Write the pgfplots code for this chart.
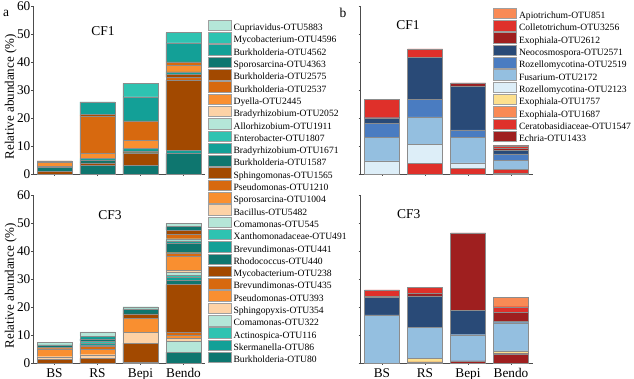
\documentclass[border=0pt]{standalone}
\usepackage{fontspec}
\setmainfont{Liberation Serif}
\usepackage{pgfplots}
\usepackage{pgfplotstable}
\pgfplotsset{compat=1.18}

\definecolor{dkteal}{HTML}{0E766F}
\definecolor{teal2}{HTML}{13A097}
\definecolor{turq}{HTML}{2EC3B1}
\definecolor{mint}{HTML}{B5E6D8}
\definecolor{peach}{HTML}{FDD2A6}
\definecolor{orng}{HTML}{F98F30}
\definecolor{orbrown}{HTML}{D7690F}
\definecolor{brwn}{HTML}{A24900}
\definecolor{coral}{HTML}{F98A55}
\definecolor{red2}{HTML}{DF302A}
\definecolor{dkred}{HTML}{9F1F1F}
\definecolor{navy}{HTML}{294A77}
\definecolor{blue2}{HTML}{4A7CC1}
\definecolor{ltblue}{HTML}{94BFE0}
\definecolor{vltblue}{HTML}{DDEEF8}
\definecolor{yell}{HTML}{FDE08E}

\colorlet{L1}{dkteal}\colorlet{L2}{teal2}\colorlet{L3}{turq}\colorlet{L4}{mint}
\colorlet{L5}{peach}\colorlet{L6}{orng}\colorlet{L7}{orbrown}\colorlet{L8}{brwn}
\colorlet{L9}{dkteal}\colorlet{L10}{teal2}\colorlet{L11}{turq}\colorlet{L12}{mint}
\colorlet{L13}{peach}\colorlet{L14}{orng}\colorlet{L15}{orbrown}\colorlet{L16}{brwn}
\colorlet{L17}{dkteal}\colorlet{L18}{teal2}\colorlet{L19}{turq}\colorlet{L20}{mint}
\colorlet{L21}{peach}\colorlet{L22}{orng}\colorlet{L23}{orbrown}\colorlet{L24}{brwn}
\colorlet{L25}{dkteal}\colorlet{L26}{teal2}\colorlet{L27}{turq}\colorlet{L28}{mint}

\colorlet{R1}{dkred}\colorlet{R2}{red2}\colorlet{R3}{coral}\colorlet{R4}{yell}
\colorlet{R5}{vltblue}\colorlet{R6}{ltblue}\colorlet{R7}{blue2}\colorlet{R8}{navy}
\colorlet{R9}{dkred}\colorlet{R10}{red2}\colorlet{R11}{coral}

% bacteria, CF1 (rows: BS, RS, Bepi, Bendo)
\pgfplotstableread{
x s1 s2 s3 s4 s5 s6 s7 s8 s9 s10 s11 s12 s13 s14 s15 s16 s17 s18 s19 s20 s21 s22 s23 s24 s25 s26 s27 s28
0 0 0 0 0 0 0 0 1.0 1.3 0 0 0 0 0 0 0.5 0 0 0 0 0 1.4 0 0.5 0 0 0 0
1 3.0 0 0 0 0 0 0 0 0 0 0 0 0 0 0 1.0 0.8 0.8 0 0 0 1.8 13.4 0.4 0 4.6 0 0
2 3.0 0 0 0 0 0 0 0 0 0 0 0 0 0 0 4.6 0.7 0.9 0 0 0 2.8 7.0 0 0 8.6 4.8 0
3 7.4 1.2 0 0 0 0 0 25.0 0 0 0 0 0 0 0.9 1.2 0 0.8 0 0 0 2.3 1.2 0 0 6.9 3.6 0
}\bacA
% bacteria, CF3
\pgfplotstableread{
x s1 s2 s3 s4 s5 s6 s7 s8 s9 s10 s11 s12 s13 s14 s15 s16 s17 s18 s19 s20 s21 s22 s23 s24 s25 s26 s27 s28
0 0 0 0 0 0 0 0 1.3 0 0 0 0 0.95 2.85 0 0.6 0.8 0 0 0.8 0 0 0 0 0 0 0 0
1 0 0 0 0 0 0 0 1.65 0 0 0 0 1.3 2.0 0.95 0.35 0 0.8 0.8 0 0 0 0 0 0.8 0.95 0 1.55
2 0.3 0 0 0 0 0 0 6.8 0 0 0 0 3.8 5.1 0 1.5 1.8 0 0 0.8 0 0 0 0 0 0 0 0
3 3.9 0 0 4.05 0.8 1.3 0.85 17.2 1.5 1.0 0.9 0.8 0.9 4.8 1.4 0 3.3 0.9 0 0.8 0 0 1.5 1.6 1.2 0 0 1.2
}\bacB
% fungi, CF1
\pgfplotstableread{
x f1 f2 f3 f4 f5 f6 f7 f8 f9 f10 f11
0 0 0 0 0 4.7 8.3 5.2 1.9 0 6.6 0
1 0 3.8 0 0 6.9 9.7 6.2 15.1 0 3.0 0
2 0 2.0 0 0 2.0 9.0 2.8 15.7 1.0 0 0
3 0.3 1.4 0 0 0 3.1 2.4 1.2 0.8 0.8 0.3
}\funA
% fungi, CF3
\pgfplotstableread{
x f1 f2 f3 f4 f5 f6 f7 f8 f9 f10 f11
0 0 0 0 0 0 17.2 0 6.3 0.3 2.3 0
1 0.4 0 0 1.2 0 11.1 0 11.3 0.9 2.1 0
2 0.8 0 0 0 0 9.3 0 8.8 27.6 0 0
3 3.3 0.3 0 0.7 0 10.1 0 0.4 3.4 1.9 3.4
}\funB

\pgfplotsset{
  boxlegend/.style={legend image code/.code={\draw[##1, draw=gray!75, line width=0.4pt] (0pt,-2.3pt) rectangle (23pt,8.2pt);}},
  panel/.style={
    scale only axis, width=172pt, height=168pt,
    xmin=-0.5, xmax=3.5, ymin=0, ymax=60,
    ybar stacked, bar width=35pt,
    axis x line*=bottom, axis y line*=left,
    xtick={0,1,2,3}, ytick={0,10,20,30,40,50,60},
    tick align=outside, major tick length=2pt,
    every tick/.style={black!70, line width=0.4pt},
    axis line style={black!70, line width=0.5pt},
    /pgf/number format/assume math mode=true,
    tick label style={font=\fontsize{13.3}{14}\selectfont},
    yticklabel style={inner xsep=0.5pt},
    xticklabel style={inner ysep=0pt, text height=9pt, text depth=3pt, yshift=-3pt},
    every axis plot/.append style={draw=black!45, line width=0.3pt},
    every axis plot post/.append style={boxlegend},
    legend style={draw=none, fill=none, inner sep=0pt, row sep=-0.5pt, column sep=2.5pt,
      font=\fontsize{9.6}{10}\selectfont,
      nodes={inner sep=0pt, text height=6.8pt, text depth=2pt}},
    legend cell align=left, reverse legend,
    clip=false,
    ylabel style={at={(axis description cs:-0.13,0.46)}, anchor=center, font=\fontsize{13}{14}\selectfont},
  },
}

\begin{document}
\begin{tikzpicture}[x=1pt,y=1pt]
\useasboundingbox (0,0) rectangle (634,379);

% ---- a: CF1
\begin{axis}[panel, at={(33pt,205pt)}, anchor=south west, xticklabel=\empty,
  ylabel={Relative abundance (\%)},
  legend style={at={(1.0145,0.919)}, anchor=north west},
  legend entries={Burkholderia-OTU80,Skermanella-OTU86,Actinospica-OTU116,Comamonas-OTU322,Sphingopyxis-OTU354,Pseudomonas-OTU393,Brevundimonas-OTU435,Mycobacterium-OTU238,Rhodococcus-OTU440,Brevundimonas-OTU441,Xanthomonadaceae-OTU491,Comamonas-OTU545,Bacillus-OTU5482,Sporosarcina-OTU1004,Pseudomonas-OTU1210,Sphingomonas-OTU1565,Burkholderia-OTU1587,Bradyrhizobium-OTU1671,Enterobacter-OTU1807,Allorhizobium-OTU1911,Bradyrhizobium-OTU2052,Dyella-OTU2445,Burkholderia-OTU2537,Burkholderia-OTU2575,Sporosarcina-OTU4363,Burkholderia-OTU4562,Mycobacterium-OTU4596,Cupriavidus-OTU5883}]
\pgfplotsinvokeforeach{1,...,28}{\addplot[fill=L#1] table[x=x,y=s#1]{\bacA};}
\node[font=\fontsize{13.5}{14}\selectfont] at (axis description cs:0.407,0.851) {CF1};
\node[font=\fontsize{13.5}{14}\selectfont] at (axis description cs:-0.157,0.958) {a};
\end{axis}

% ---- a: CF3
\begin{axis}[panel, at={(33pt,16pt)}, anchor=south west, xticklabels={BS,RS,Bepi,Bendo},
  ylabel={Relative abundance (\%)}]
\pgfplotsinvokeforeach{1,...,28}{\addplot[fill=L#1] table[x=x,y=s#1]{\bacB};}
\node[font=\fontsize{13.5}{14}\selectfont] at (axis description cs:0.448,0.878) {CF3};
\end{axis}

% ---- b: CF1
\begin{axis}[panel, at={(360.5pt,205pt)}, anchor=south west, xticklabel=\empty, yticklabel=\empty,
  legend style={at={(0.770,0.990)}, anchor=north west},
  legend entries={Echria-OTU1433,Ceratobasidiaceae-OTU1547,Exophiala-OTU1687,Exophiala-OTU1757,Rozellomycotina-OTU2123,Fusarium-OTU2172,Rozellomycotina-OTU2519,Neocosmospora-OTU2571,Exophiala-OTU2612,Colletotrichum-OTU3256,Apiotrichum-OTU851}]
\pgfplotsinvokeforeach{1,...,11}{\addplot[fill=R#1] table[x=x,y=f#1]{\funA};}
\node[font=\fontsize{13.5}{14}\selectfont] at (axis description cs:0.276,0.887) {CF1};
\node[font=\fontsize{13.5}{14}\selectfont] at (axis description cs:-0.102,0.958) {b};
\end{axis}

% ---- b: CF3
\begin{axis}[panel, at={(360.5pt,16pt)}, anchor=south west, xticklabels={BS,RS,Bepi,Bendo}, yticklabel=\empty]
\pgfplotsinvokeforeach{1,...,11}{\addplot[fill=R#1] table[x=x,y=f#1]{\funB};}
\node[font=\fontsize{13.5}{14}\selectfont] at (axis description cs:0.28,0.888) {CF3};
\end{axis}
\end{tikzpicture}
\end{document}
